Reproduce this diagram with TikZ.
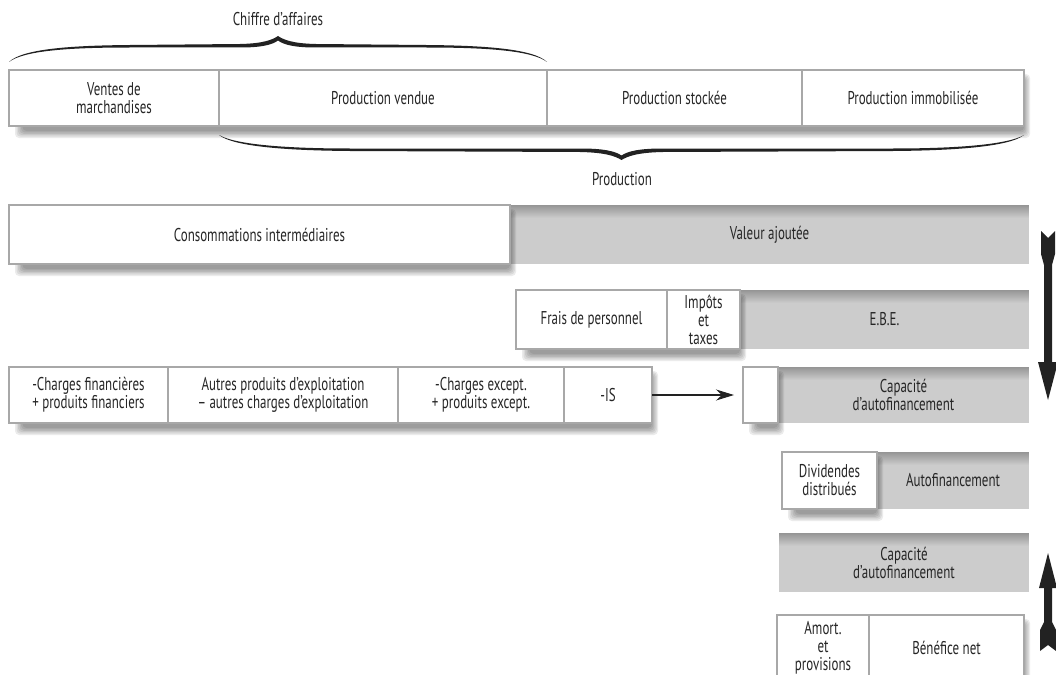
\documentclass[tikz,border=0pt]{standalone}
\usepackage{fontspec}
\setmainfont{PT Sans}[FakeStretch=0.70]
\usetikzlibrary{arrows.meta}
\definecolor{txt}{HTML}{262626}
\definecolor{bord}{HTML}{A8A8A8}
\definecolor{gfill}{HTML}{CCCCCC}
\definecolor{gtop}{HTML}{959595}
\definecolor{ink}{HTML}{222222}
\newcommand\fs{\fontsize{18.5}{18}\selectfont}
\newcommand\bx[7]{\node[#1,anchor=north west,minimum width={#5-#3},minimum height={#6-#4}] (#2) at (#3,#4) {#7};}
\newcommand\shd[4]{\foreach \k in {0,...,5}{\fill[black,opacity=0.08,rounded corners=4pt] (#1+6+1.5*\k,#2+4+\k) rectangle (#3+6-1.2*\k,#4+12-1.4*\k);}}
\newcommand\gtopband[4]{\foreach \k in {0,...,13}{\pgfmathsetmacro\pc{100-\k*100/13}\fill[gtop!\pc!gfill] (#1,#2+\k) rectangle (#3,#2+\k+1.05);}}
\tikzset{
  base/.style={inner sep=0pt, outer sep=0pt, align=center, text=txt, font=\fs},
  wbox/.style={base, draw=bord, line width=1.2pt, fill=white},
  gbox/.style={base, fill=gfill},
  lbl/.style={font=\fs, text=txt, inner sep=0pt},
}
\begin{document}
\begin{tikzpicture}[x=1pt,y=-1pt]
\useasboundingbox (0,0) rectangle (1056,674);
\clip (0,0) rectangle (1056,674);

% braces and labels
\node[lbl] (ca) at (278,19) {Chiffre d’affaires};
\fill[ink] (9,62) .. controls (22,49) and (70,45.5) .. (130,45) -- (240,44) .. controls (263,43.5) and (272,40) .. (278,36) .. controls (284,40) and (293,43.5) .. (316,44) -- (426,45) .. controls (486,45.5) and (534,49) .. (547,62) .. controls (532,50.5) and (486,47.5) .. (426,47.5) -- (316,47.5) .. controls (295,47.5) and (284,45) .. (278,40.5) .. controls (272,45) and (261,47.5) .. (240,47.5) -- (130,47.5) .. controls (70,47.5) and (24,50.5) .. (9,62) -- cycle;

\fill[ink] (219,135) .. controls (234,147) and (290,150.5) .. (350,151) -- (580,152) .. controls (605,152.5) and (615,156) .. (621.5,160) .. controls (628,156) and (638,152.5) .. (663,152) -- (893,151) .. controls (953,150.5) and (1009,147) .. (1024,135) .. controls (1007,145) and (953,148.5) .. (893,148.5) -- (663,148.5) .. controls (640,148.5) and (628,151) .. (621.5,155.5) .. controls (615,151) and (603,148.5) .. (580,148.5) -- (350,148.5) .. controls (290,148.5) and (236,145) .. (219,135) -- cycle;
\node[lbl] (prod) at (622,179) {Production};

% row 1
\shd{9}{70}{1024}{126}
\bx{wbox}{vm}{9}{70}{219}{126}{Ventes de\\marchandises}
\bx{wbox}{pv}{219}{70}{547}{126}{Production vendue}
\bx{wbox}{ps}{547}{70}{802}{126}{Production stockée}
\bx{wbox}{pi}{802}{70}{1024}{126}{Production immobilisée}

% row 2
\bx{gbox}{va}{510}{205}{1029}{264}{}
\gtopband{510}{205}{1029}{264}
\node[lbl] at (va.center) {Valeur ajoutée};
\shd{9}{205}{510}{264}
\bx{wbox}{ci}{9}{205}{510}{264}{Consommations intermédiaires}

% row 3
\bx{gbox}{ebe}{740}{290}{1029}{349}{}
\gtopband{740}{290}{1029}{349}
\node[lbl] at (ebe.center) {E.B.E.};
\shd{516}{290}{740}{349}
\bx{wbox}{fp}{516}{290}{667}{349}{Frais de personnel}
\bx{wbox}{it}{667}{290}{740}{349}{Impôts\\et\\taxes}

% row 4
\bx{gbox}{caf}{778}{367}{1029}{423}{}
\gtopband{778}{367}{1029}{423}
\node[lbl,align=center] at (caf.center) {Capacité\\d’autofinancement};
\shd{9}{367}{652}{423}
\bx{wbox,align=left}{cf}{9}{367}{168}{423}{-Charges financières\\+ produits financiers}
\bx{wbox}{ap}{168}{367}{398}{423}{Autres produits d’exploitation\\– autres charges d’exploitation}
\bx{wbox}{ce}{398}{367}{564}{423}{-Charges except.\\+ produits except.}
\bx{wbox}{is}{564}{367}{652}{423}{-IS}
\shd{743}{367}{778}{423}
\bx{wbox}{cw}{743}{367}{778}{423}{}
\draw[line width=1.3pt, ink, -{Stealth[length=18pt,width=11pt]}] (is.east) -- ([xshift=-9pt]cw.west);

% row 5
\bx{gbox}{af}{877}{452}{1029}{509}{}
\gtopband{877}{452}{1029}{509}
\node[lbl] at (af.center) {Autofinancement};
\shd{782}{452}{877}{509}
\bx{wbox}{dd}{782}{452}{877}{509}{Dividendes\\distribués}

% row 6
\bx{gbox}{caf2}{779}{533}{1029}{592}{}
\gtopband{779}{533}{1029}{592}
\node[lbl,align=center] at (caf2.center) {Capacité\\d’autofinancement};

% row 7
\shd{777}{615}{1024}{680}
\bx{wbox}{am}{777}{615}{869}{680}{Amort.\\et\\provisions}
\bx{wbox}{bn}{869}{615}{1024}{680}{Bénéfice net}

% big arrows
\fill[ink] (1041,231) -- (1048,238) -- (1055,231) -- (1055,254) -- (1052,265) -- (1052,362) -- (1058,362) -- (1048,400) -- (1038,362) -- (1044,362) -- (1044,265) -- (1041,254) -- cycle;
\fill[ink] (1048,553) -- (1057,588) -- (1052,588) -- (1052,622) -- (1056,630) -- (1056,651) -- (1048,645) -- (1040,651) -- (1040,630) -- (1044,622) -- (1044,588) -- (1039,588) -- cycle;
\end{tikzpicture}
\end{document}
